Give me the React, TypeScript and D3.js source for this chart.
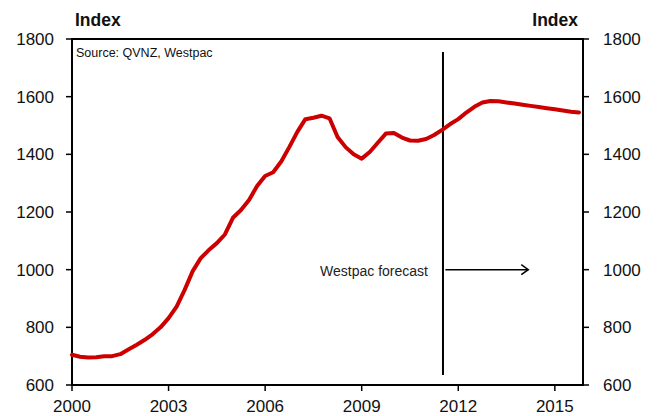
import React from 'react';
import * as d3 from 'd3';

// quarterly house price index, 2000Q1 .. 2015Q4 (forecast from 2011Q3)
const values: number[] = [
  705, 698, 695, 696, 700, 700, 707, 723,
  739, 756, 776, 800, 832, 872, 930, 995,
  1040, 1068, 1092, 1122, 1180, 1207, 1242, 1290,
  1325, 1338, 1375, 1425, 1478, 1522, 1527, 1534,
  1525, 1460, 1425, 1400, 1385, 1408, 1440, 1472,
  1474, 1458, 1448, 1447, 1453, 1467, 1485, 1505,
  1522, 1545, 1565, 1580, 1585, 1584, 1580, 1576,
  1572, 1568, 1564, 1560, 1556, 1552, 1548, 1545,
];

const xTickLabels = ['2000', '2003', '2006', '2009', '2012', '2015'];
const xTickIndex = [0, 12, 24, 36, 48, 60];
const yTicks = [600, 800, 1000, 1200, 1400, 1600, 1800];

const forecastStart = 46.1; // quarter index where the forecast begins
const forecastLine = [635, 1755];
const arrowSpan = [46.4, 56.7];
const arrowLevel = 1000;

const W = 667;
const H = 416;
const margin = { top: 39, right: 84, bottom: 31, left: 72 };
const font = '"Liberation Sans", Arial, sans-serif';

const App: React.FC = () => {
  const x = d3
    .scaleLinear()
    .domain([0, 63.5])
    .range([margin.left, W - margin.right]);
  const y = d3
    .scaleLinear()
    .domain([600, 1800])
    .range([H - margin.bottom, margin.top]);

  const line = d3
    .line<number>()
    .x((_, i) => x(i))
    .y((d) => y(d));

  const x0 = x.range()[0];
  const x1 = x.range()[1];
  const y0 = y.range()[0];
  const y1 = y.range()[1];

  const ax = x(arrowSpan[1]);
  const ay = y(arrowLevel);

  return (
    <svg
      width={W}
      height={H}
      style={{ position: 'absolute', left: 0, top: 0, background: '#fff' }}
      fontFamily={font}
    >
      {/* y ticks + labels, both sides */}
      {yTicks.map((t) => (
        <g key={t}>
          <line x1={x0 - 6} x2={x0} y1={y(t)} y2={y(t)} stroke="#000" strokeWidth={1.5} />
          <line x1={x1} x2={x1 + 6} y1={y(t)} y2={y(t)} stroke="#000" strokeWidth={1.5} />
          <text x={x0 - 18} y={y(t) + 6} textAnchor="end" fontSize={17} fill="#111">
            {t}
          </text>
          <text x={x1 + 20} y={y(t) + 6} textAnchor="start" fontSize={17} fill="#111">
            {t}
          </text>
        </g>
      ))}

      {/* x ticks */}
      {xTickIndex.map((q, i) => (
        <g key={q}>
          <line x1={x(q)} x2={x(q)} y1={y0} y2={y0 + 6} stroke="#000" strokeWidth={1.5} />
          <text x={x(q)} y={y0 + 27} textAnchor="middle" fontSize={17} fill="#111">
            {xTickLabels[i]}
          </text>
        </g>
      ))}

      {/* frame */}
      <rect
        x={x0}
        y={y1}
        width={x1 - x0}
        height={y0 - y1}
        fill="none"
        stroke="#000"
        strokeWidth={2}
      />

      <text x={x0 + 3} y={26} fontSize={17.5} fontWeight="bold" fill="#111">
        Index
      </text>
      <text x={x1 - 5} y={26} fontSize={17.5} fontWeight="bold" fill="#111" textAnchor="end">
        Index
      </text>
      <text x={x0 + 4} y={57} fontSize={12.5} fill="#111">
        Source: QVNZ, Westpac
      </text>

      {/* forecast marker */}
      <line
        x1={x(forecastStart)}
        x2={x(forecastStart)}
        y1={y(forecastLine[0])}
        y2={y(forecastLine[1])}
        stroke="#000"
        strokeWidth={2}
      />
      <text
        x={x(forecastStart) - 15}
        y={ay + 6}
        textAnchor="end"
        fontSize={14}
        fill="#222"
      >
        Westpac forecast
      </text>
      <line x1={x(arrowSpan[0])} x2={ax} y1={ay} y2={ay} stroke="#000" strokeWidth={1.5} />
      <path
        d={`M${ax - 7},${ay - 5} L${ax},${ay} L${ax - 7},${ay + 5}`}
        fill="none"
        stroke="#000"
        strokeWidth={1.5}
      />

      {/* index line */}
      <path
        d={line(values) ?? ''}
        fill="none"
        stroke="#CC0000"
        strokeWidth={4}
        strokeLinejoin="round"
        strokeLinecap="round"
      />
    </svg>
  );
};

export default App;
